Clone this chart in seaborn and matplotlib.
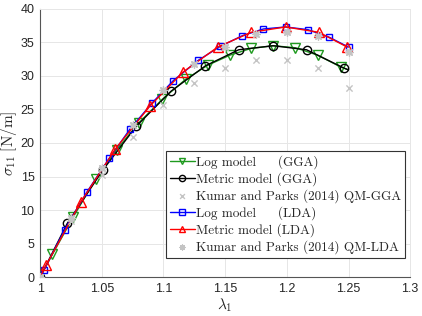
import matplotlib

matplotlib.use("Agg")
import matplotlib.pyplot as plt
import numpy as np
import seaborn as sns

# --- data ---
# Log model (GGA): line end points + marker points
lam_log_gga = [1.000, 1.010, 1.027, 1.045, 1.062, 1.080, 1.099, 1.118, 1.136, 1.154, 1.171, 1.189, 1.207, 1.225, 1.244, 1.250]
sig_log_gga = [0.0, 3.4, 9.0, 14.6, 19.0, 23.0, 26.5, 29.5, 31.6, 33.1, 34.1, 34.5, 34.2, 33.1, 31.3, 30.9]

# Metric model (GGA)
lam_met_gga = [1.000, 1.022, 1.051, 1.078, 1.106, 1.134, 1.161, 1.189, 1.216, 1.246, 1.250]
sig_met_gga = [0.0, 8.0, 16.0, 22.5, 27.7, 31.5, 33.9, 34.5, 33.9, 31.2, 30.9]

# Log model (LDA)
lam_log_lda = [1.000, 1.003, 1.020, 1.038, 1.056, 1.073, 1.091, 1.108, 1.128, 1.146, 1.164, 1.181, 1.199, 1.217, 1.234, 1.250]
sig_log_lda = [0.0, 1.0, 7.1, 12.7, 17.7, 22.1, 26.0, 29.3, 32.3, 34.4, 36.0, 37.0, 37.3, 36.9, 35.8, 34.3]

# Metric model (LDA)
lam_met_lda = [1.000, 1.005, 1.033, 1.061, 1.089, 1.116, 1.144, 1.171, 1.199, 1.226, 1.249]
sig_met_lda = [0.0, 1.8, 11.2, 19.1, 25.5, 30.6, 34.3, 36.5, 37.3, 36.5, 34.3]

# Kumar and Parks (2014)
lam_qm = [1.000, 1.025, 1.050, 1.075, 1.100, 1.125, 1.150, 1.175, 1.200, 1.225, 1.250]
sig_qm_gga = [0.0, 8.4, 15.3, 20.9, 25.7, 29.0, 31.2, 32.4, 32.4, 31.2, 28.2]
sig_qm_lda = [0.0, 8.8, 16.3, 22.7, 27.9, 31.8, 34.3, 36.3, 36.6, 35.9, 33.6]

x_ticks = [1.0, 1.05, 1.1, 1.15, 1.2, 1.25, 1.3]
x_ticklabels = ["1", "1.05", "1.1", "1.15", "1.2", "1.25", "1.3"]
y_ticks = [0, 5, 10, 15, 20, 25, 30, 35, 40]

labels = [
    "Log model     (GGA)",
    "Metric model (GGA)",
    "Kumar and Parks (2014) QM-GGA",
    "Log model     (LDA)",
    "Metric model (LDA)",
    "Kumar and Parks (2014) QM-LDA",
]

sns.set_style("whitegrid")
plt.rcParams["font.family"] = ["Liberation Sans", "DejaVu Sans"]
plt.rcParams["mathtext.fontset"] = "cm"

GREEN = "#1f9a1f"
GRAY = "#c4c4c4"

fig, ax = plt.subplots(figsize=(4.22, 3.16), dpi=100)
fig.subplots_adjust(left=0.095, right=0.972, bottom=0.123, top=0.972)

lw = 1.0
sns.lineplot(x=lam_log_gga, y=sig_log_gga, ax=ax, color=GREEN, lw=lw, marker="v", ms=6.5,
             mfc="none", mec=GREEN, mew=1.0, markevery=slice(1, -1), label=labels[0])
sns.lineplot(x=lam_met_gga, y=sig_met_gga, ax=ax, color="black", lw=lw, marker="o", ms=6,
             mfc="none", mec="black", mew=1.0, markevery=slice(0, -1), label=labels[1])
sns.scatterplot(x=lam_qm, y=sig_qm_gga, ax=ax, color=GRAY, marker="x", s=20, linewidth=1.0,
                label=labels[2], zorder=3)
sns.lineplot(x=lam_log_lda, y=sig_log_lda, ax=ax, color="blue", lw=lw, marker="s", ms=5,
             mfc="none", mec="blue", mew=1.0, markevery=slice(1, None), label=labels[3])
sns.lineplot(x=lam_met_lda, y=sig_met_lda, ax=ax, color="red", lw=lw, marker="^", ms=6.5,
             mfc="none", mec="red", mew=1.0, markevery=slice(1, None), label=labels[4])
sns.scatterplot(x=lam_qm, y=sig_qm_lda, ax=ax, color=GRAY, marker=(8, 2, 0), s=28, linewidth=1.0,
                label=labels[5], zorder=3)

ax.set_xlim(1.0, 1.3)
ax.set_ylim(0, 40)
ax.set_xticks(x_ticks)
ax.set_xticklabels(x_ticklabels)
ax.set_yticks(y_ticks)
ax.tick_params(axis="both", direction="in", length=3, width=0.6, labelsize=9,
               colors="#262626", pad=4)
ax.grid(True, color="#e6e6e6", lw=0.7)
for side in ["left", "bottom"]:
    ax.spines[side].set_color("#555555")
    ax.spines[side].set_linewidth(0.8)
for side in ["top", "right"]:
    ax.spines[side].set_color("#e6e6e6")
    ax.spines[side].set_linewidth(0.7)

ax.set_xlabel(r"$\lambda_1$", fontsize=11, labelpad=1)
ax.set_ylabel(r"$\sigma_{11}\ \mathrm{[N/m]}$", fontsize=11)
ax.yaxis.set_label_coords(-0.057, 0.5)

leg = ax.legend(loc="lower right", bbox_to_anchor=(0.986, 0.071),
                prop={"family": "cmr10", "size": 9.5},
                frameon=True, fancybox=False, edgecolor="#333333", framealpha=1,
                handlelength=1.9, handletextpad=0.1, labelspacing=0.25, borderpad=0.3,
                borderaxespad=0)
leg.get_frame().set_linewidth(0.8)
for h in leg.legend_handles:
    if hasattr(h, "set_markersize"):
        h.set_markersize(4.5)
    else:
        h.set_sizes([12])

plt.savefig("out.png", dpi=100)
